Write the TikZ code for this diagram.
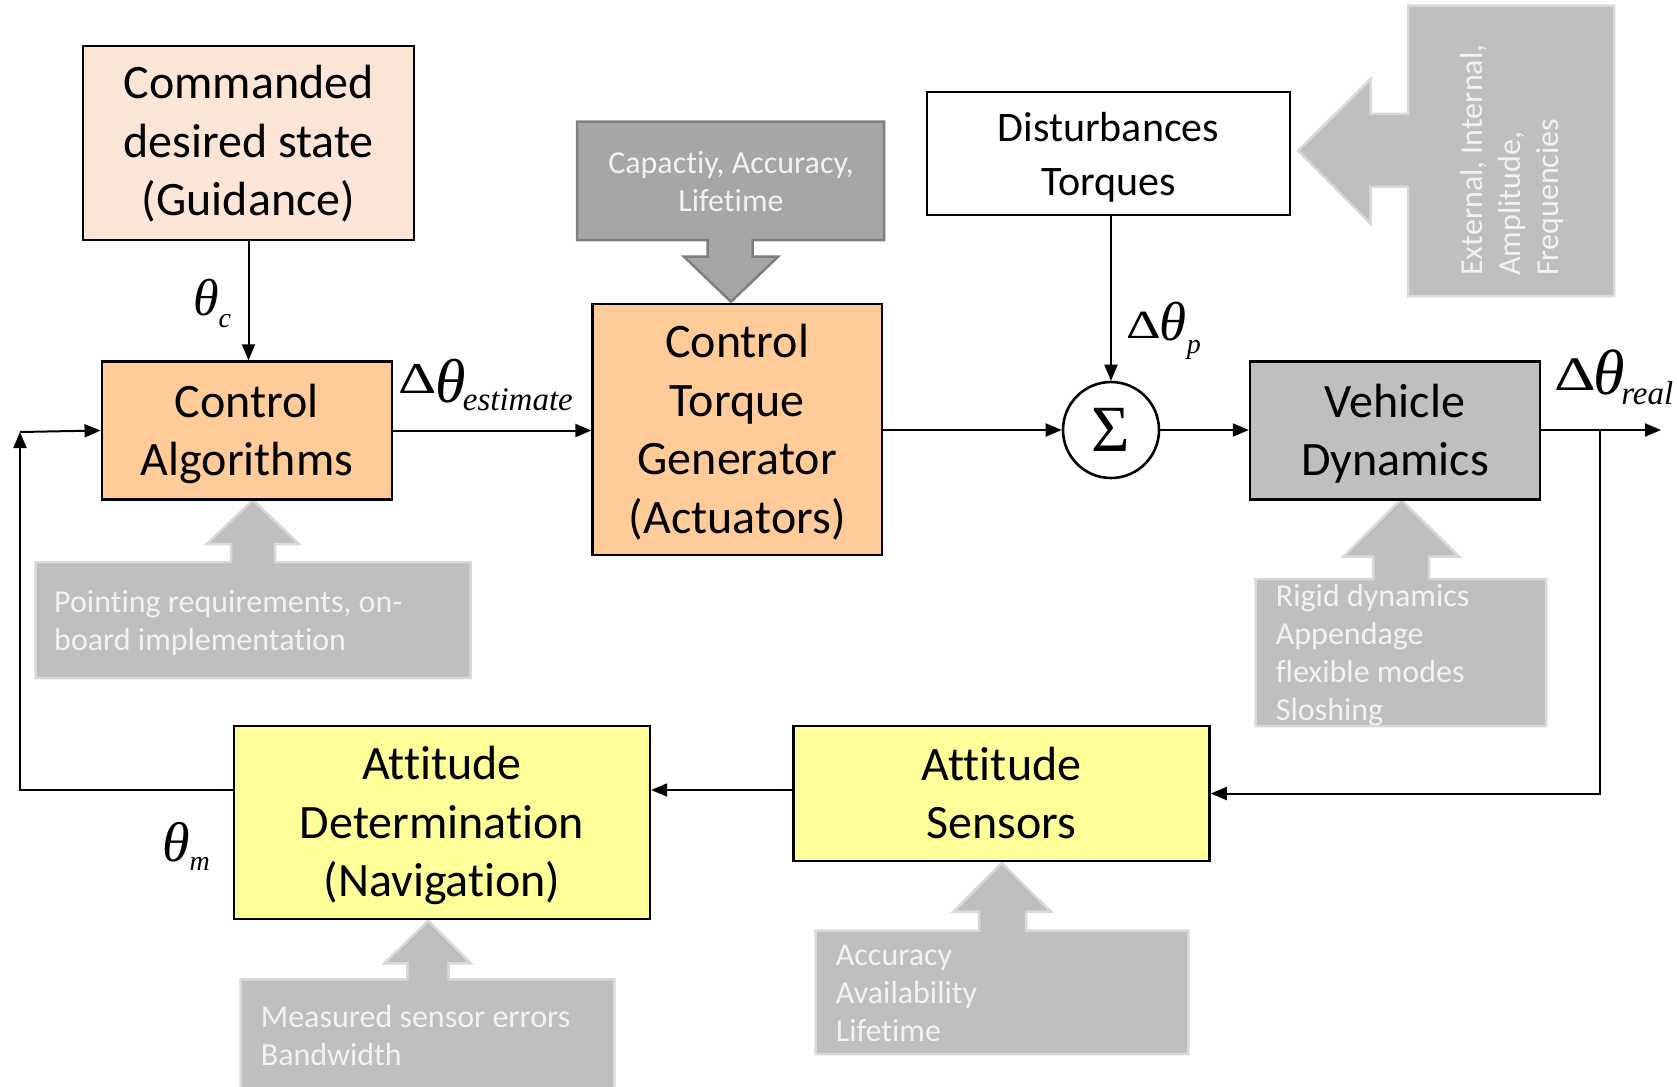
\documentclass[tikz,border=0pt]{standalone}
\usepackage{graphicx}
\usepackage{fontspec}
\setmainfont{Carlito}[Ligatures=NoCommon]
\newfontfamily\symfont{Liberation Serif}
\usetikzlibrary{arrows.meta}
\definecolor{peach}{HTML}{FBE5D6}
\definecolor{apricot}{HTML}{FFCC99}
\definecolor{paleyellow}{HTML}{FFFF99}
\definecolor{midgrey}{HTML}{BFBFBF}
\definecolor{darkgrey}{HTML}{A6A6A6}
\definecolor{edgegrey}{HTML}{7F7F7F}
\definecolor{lightedge}{HTML}{D9D9D9}
\definecolor{notetext}{HTML}{F2F2F2}
% symbols of the signal labels
\newcommand\dlt[1]{\scalebox{1.35}[1]{\fontsize{#1}{#1}\selectfont\symfont Δ}}
\newcommand\tht[1]{{\fontsize{#1}{#1}\selectfont\symfont\itshape θ}}
\newcommand\subs[3]{\raisebox{#2}{\fontsize{#1}{#1}\selectfont\symfont\itshape #3}}
% invisible line struts so that block lines centre evenly
\newcommand\ls{\rule[-12pt]{0pt}{56pt}}
\newcommand\lsd{\rule[-10pt]{0pt}{49.6pt}}
\begin{document}
\begin{tikzpicture}[x=1pt,y=-1pt,
  blk/.style={draw=black, line width=2.4pt, align=center, inner sep=0pt,
    font=\fontsize{48}{58.5}\selectfont},
  link/.style={line width=2pt, -{Triangle[length=16pt,width=13pt]}},
  note/.style={fill=midgrey, draw=lightedge, line width=2.5pt, line join=miter},
  darknote/.style={fill=darkgrey, draw=edgegrey, line width=2.5pt, line join=miter},
  notetxt/.style={text=notetext, align=left, inner sep=0pt,
    font=\fontsize{32}{38}\selectfont},
  lbl/.style={inner sep=0pt, anchor=base west},
]
\useasboundingbox (0,0) rectangle (1677,1086);

% ---- grey annotation callouts ----
\draw[note] (35.7,562) -- (231,562) -- (231,544) -- (206.7,544) -- (253,500)
  -- (299,544) -- (275,544) -- (275,562) -- (470.7,562) -- (470.7,678)
  -- (35.7,678) -- cycle;
\node[notetxt, anchor=west] (canote) at (54,623.5)
  {Pointing requirements, on-\\board implementation};

\draw[note] (1255.5,579) -- (1373.3,579) -- (1373.3,556.7) -- (1343.3,556.7)
  -- (1401,499.5) -- (1459.3,556.7) -- (1429,556.7) -- (1429,579)
  -- (1546,579) -- (1546,726) -- (1255.5,726) -- cycle;
\node[notetxt, anchor=west] (vehnote) at (1275.7,655.5)
  {Rigid dynamics\\Appendage\\flexible modes\\Sloshing};

\draw[note] (240.7,979.3) -- (407.3,979.3) -- (407.3,963.3) -- (384.3,963.3)
  -- (428.3,920.7) -- (471,963.3) -- (448.7,963.3) -- (448.7,979.3)
  -- (614.3,979.3) -- (614.3,1095) -- (240.7,1095) -- cycle;
\node[notetxt, anchor=west] (detnote) at (260.7,1035)
  {Measured sensor errors\\Bandwidth};

\draw[note] (815.7,930.7) -- (979,930.7) -- (979,911.7) -- (953.3,911.7)
  -- (1001.7,862.7) -- (1051,911.7) -- (1026,911.7) -- (1026,930.7)
  -- (1188.3,930.7) -- (1188.3,1054) -- (815.7,1054) -- cycle;
\node[notetxt, anchor=west] (sensnote) at (835.7,993.3)
  {Accuracy\\Availability\\Lifetime};

\draw[darknote] (577,121.7) -- (884,121.7) -- (884,240) -- (752.7,240)
  -- (752.7,256.7) -- (778,256.7) -- (731,301.7) -- (684,256.7)
  -- (707.7,256.7) -- (707.7,240) -- (577,240) -- cycle;
\node[notetxt, align=center] (actnote) at (731,181.5)
  {Capactiy, Accuracy,\\Lifetime};

\draw[note] (1408,5.7) -- (1614,5.7) -- (1614,296) -- (1408,296) -- (1408,187)
  -- (1370.7,187) -- (1370.7,224) -- (1298,150.7) -- (1370.7,79)
  -- (1370.7,114) -- (1408,114) -- cycle;
\node[notetxt, rotate=90, anchor=west] (distnote) at (1511.5,276)
  {External, Internal,\\Amplitude,\\Frequencies};

% ---- blocks ----
\node[blk, fill=peach, minimum width=331, minimum height=194] (cmd) at (248.5,143)
  {Commanded\ls\\desired state\ls\\(Guidance)\rule[-16pt]{0pt}{60pt}};
\node[blk, fill=apricot, minimum width=290.5, minimum height=138] (ca) at (247,430.5)
  {Control\ls\\Algorithms\ls};
\node[blk, fill=apricot, minimum width=289.5, minimum height=251.3] (ctg) at (737.25,429.35)
  {Control\ls\\Torque\ls\\Generator\ls\\(Actuators)\ls};
\node[draw, line width=2.6pt, circle, minimum size=96, inner sep=0pt, fill=white] (sum) at (1111,430)
  {\fontsize{66}{66}\selectfont\symfont Σ};
\node[blk, fill=white, minimum width=363, minimum height=123,
  font=\fontsize{42}{53.5}\selectfont] (dist) at (1108.5,153.5)
  {Disturbances\lsd\\Torques\lsd};
\node[blk, fill=midgrey, minimum width=290, minimum height=138] (veh) at (1395,430.5)
  {Vehicle\ls\\Dynamics\ls};
\node[blk, fill=paleyellow, minimum width=416, minimum height=192.7] (det) at (442,822.35)
  {Attitude\ls\\Determination\ls\\(Navigation)\ls};
\node[blk, fill=paleyellow, minimum width=416, minimum height=135] (sens) at (1001.6,793.5)
  {Attitude\ls\\Sensors\ls};

% ---- signal labels ----
\node[lbl] (thc) at (193,315) {\tht{52}\subs{28}{-12pt}{c}};
\node[lbl] (dthe) at (398,393)
  {\dlt{44}\kern-1pt\raisebox{-9pt}{\tht{62}}\kern-3pt\subs{33}{-17pt}{estimate}};
\node[lbl] (dthp) at (1126,338)
  {\dlt{40}\kern-1pt\raisebox{-2pt}{\tht{55}}\subs{28}{-15pt}{p}};
\node[lbl] (dthr) at (1554,390)
  {\dlt{48}\kern-2pt\raisebox{-4pt}{\tht{64}}\kern-4pt\subs{33}{-14pt}{real}};
\node[lbl] (thm) at (162,861) {\tht{56}\subs{28}{-9pt}{m}};

% ---- signal flow ----
\coordinate (out) at (1661,430);
\coordinate (br) at (1600,430);
\coordinate (lvl) at (0,790);
\coordinate (corner) at (20,432);

\draw[link] (cmd.south) -- (cmd.south |- ca.north);
\draw[link] (ca.east) -- (ca.east -| ctg.west);
\draw[link] (ctg.east |- sum.west) -- (sum.west);
\draw[link] (dist.south -| sum.north) -- (sum.north);
\draw[link] (sum.east) -- (sum.east -| veh.west);
\draw[link] (veh.east |- out) -- (out);
\draw[link] (br) |- (sens.east);
\draw[link] (sens.west |- lvl) -- (det.east |- lvl);
\draw[link] (det.west |- lvl) -| (corner);
\draw[link] (corner) -- (ca.west);
\end{tikzpicture}
\end{document}
